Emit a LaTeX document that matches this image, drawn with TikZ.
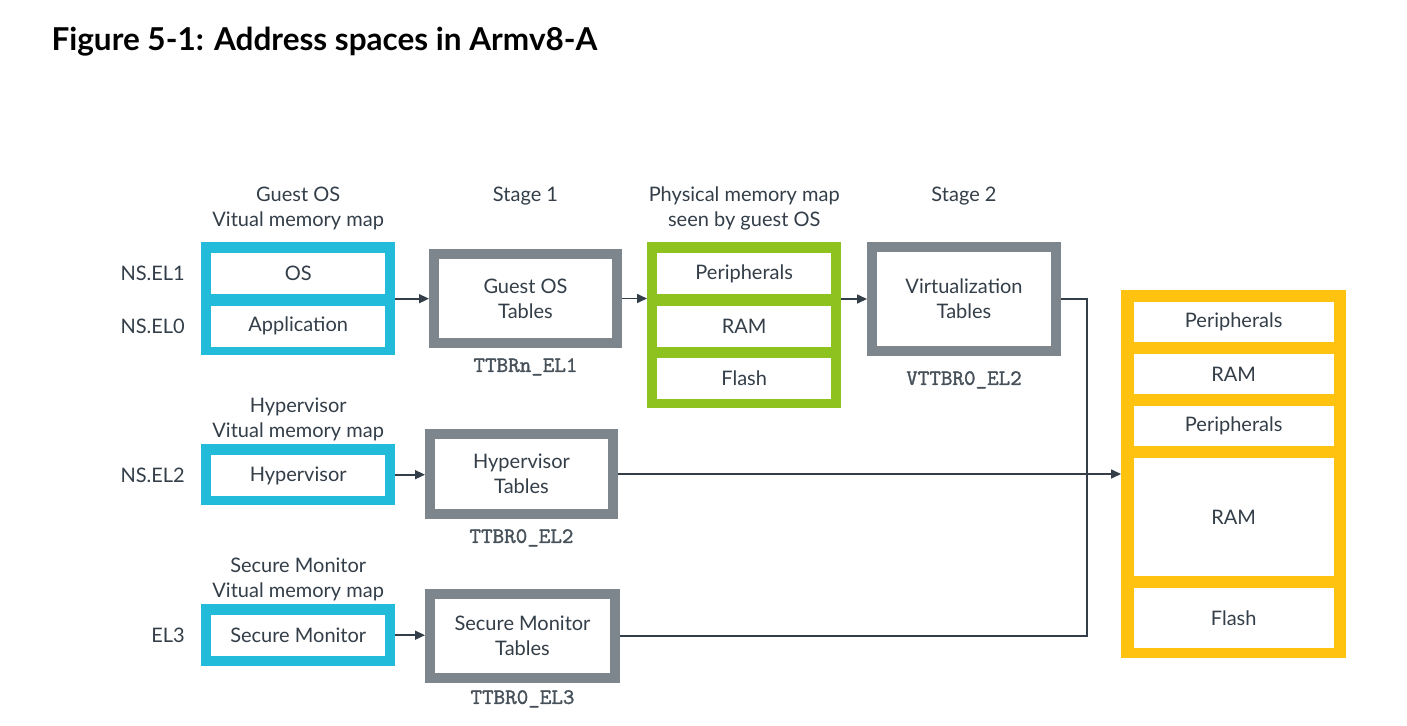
\documentclass[tikz,border=0pt]{standalone}
\usepackage{fontspec}
\setmainfont{Lato}
\newfontfamily\regfont{lmmono10-regular.otf}[FakeBold=1.3]
\usetikzlibrary{arrows.meta,positioning}
\definecolor{armcyan}{HTML}{22BBDA}
\definecolor{armgreen}{HTML}{8DC21F}
\definecolor{armyellow}{HTML}{FFC20E}
\definecolor{tblgray}{HTML}{7D868C}
\definecolor{inktext}{HTML}{333E48}

\begin{document}
\begin{tikzpicture}[
  x=1pt, y=-1pt,
  font=\fontsize{20}{25}\selectfont, text=inktext,
  mapframe/.style={fill=#1, inner sep=0pt, minimum width=194pt, anchor=north west},
  cell/.style={fill=white, inner sep=0pt, minimum width=174pt, minimum height=41pt},
  hostcell/.style={fill=white, inner sep=0pt, minimum width=200pt, minimum height=#1},
  tblbox/.style={draw=tblgray, line width=10pt, fill=white, inner sep=0pt, minimum width=183pt, align=center},
  heading/.style={align=center, inner sep=0pt},
  regname/.style={font=\regfont\fontsize{22}{24}\selectfont, text=inktext!90, inner sep=0pt},
  elname/.style={inner sep=0pt},
  link/.style={line width=1.6pt, draw=inktext},
  flow/.style={link, -{Triangle[length=10pt,width=9pt]}}
]
\useasboundingbox (0,0) rectangle (1407,725);

\node[anchor=west, font=\fontsize{31.5}{36}\selectfont\bfseries, text=black] (title) at (48,42) {Figure 5-1: Address spaces in Armv8-A};

% Virtual memory maps
\node[mapframe=armcyan, minimum height=113pt] (guestmap) at (201,242) {};
\node[cell, below=11pt of guestmap.north] (oscell) {OS};
\node[cell, below=11pt of oscell] (appcell) {Application};
\node[mapframe=armcyan, minimum height=61pt] (hypmap) at (201,444) {};
\node[cell, below=11pt of hypmap.north] (hypcell) {Hypervisor};
\node[mapframe=armcyan, minimum height=62pt] (smmap) at (201,604) {};
\node[cell, below=11pt of smmap.north] (smcell) {Secure Monitor};

\node[elname, left=26pt of oscell] {NS.EL1};
\node[elname, left=26pt of appcell] {NS.EL0};
\node[elname, left=26pt of hypcell] {NS.EL2};
\node[elname, left=26pt of smcell] {EL3};

\node[heading, above=12pt of guestmap] (guesthead) {Guest OS\\Vitual memory map};
\node[heading, above=3pt of hypmap] {Hypervisor\\Vitual memory map};
\node[heading, above=3pt of smmap] {Secure Monitor\\Vitual memory map};

% Translation tables
\node[tblbox, minimum height=89pt] (guesttbl) at (525.5,298.5) {Guest OS\\Tables};
\node[tblbox, minimum height=104pt, minimum width=184pt] (virttbl) at (964,299) {Virtualization\\Tables};
\node[tblbox, minimum height=80pt] (hyptbl) at (521.5,474) {Hypervisor\\Tables};
\node[tblbox, minimum height=84pt, minimum width=185pt] (smtbl) at (522.5,636) {Secure Monitor\\Tables};

\node[regname, below=10pt of guesttbl] {TTBRn\_EL1};
\node[regname, below=15pt of virttbl] {VTTBR0\_EL2};
\node[regname, below=10pt of hyptbl] {TTBR0\_EL2};
\node[regname, below=7pt of smtbl] {TTBR0\_EL3};

\node[heading, anchor=north] at (guesttbl.north |- guesthead.north) {Stage 1};
\node[heading, anchor=north] at (virttbl.north |- guesthead.north) {Stage 2};

% Physical maps
\node[mapframe=armgreen, minimum height=166pt] (physmap) at (647,242) {};
\node[cell, below=11pt of physmap.north] (physper) {Peripherals};
\node[cell, below=11pt of physper] (physram) {RAM};
\node[cell, below=11pt of physram] (physflash) {Flash};
\node[heading, anchor=north] at (physmap.north |- guesthead.north) {Physical memory map\\seen by guest OS};

\node[mapframe=armyellow, minimum width=225pt, minimum height=368pt] (hostmap) at (1121,290) {};
\node[hostcell=40pt, below=12pt of hostmap.north] (hostper) {Peripherals};
\node[hostcell=40pt, below=11.5pt of hostper] (hostram) {RAM};
\node[hostcell=40pt, below=11.5pt of hostram] (hostdev) {Peripherals};
\node[hostcell=118pt, below=11.5pt of hostdev] (hostmain) {RAM};
\node[hostcell=60pt, below=11.5pt of hostmain] (hostflash) {Flash};

% Connectors
\coordinate (bus) at (1087,0);
\draw[flow] (guestmap.east) -- (guestmap.east -| guesttbl.west);
\draw[flow] (guesttbl.east) -- (guesttbl.east -| physmap.west);
\draw[flow] (virttbl.west -| physmap.east) -- (virttbl.west);
\draw[flow] (hypmap.east) -- (hypmap.east -| hyptbl.west);
\draw[flow] (smmap.east) -- (smmap.east -| smtbl.west);
\draw[flow] (hyptbl.east) -- (hyptbl.east -| hostmap.west);
\draw[link] (virttbl.east) -| (bus |- smtbl.east) -- (smtbl.east);
\end{tikzpicture}
\end{document}
